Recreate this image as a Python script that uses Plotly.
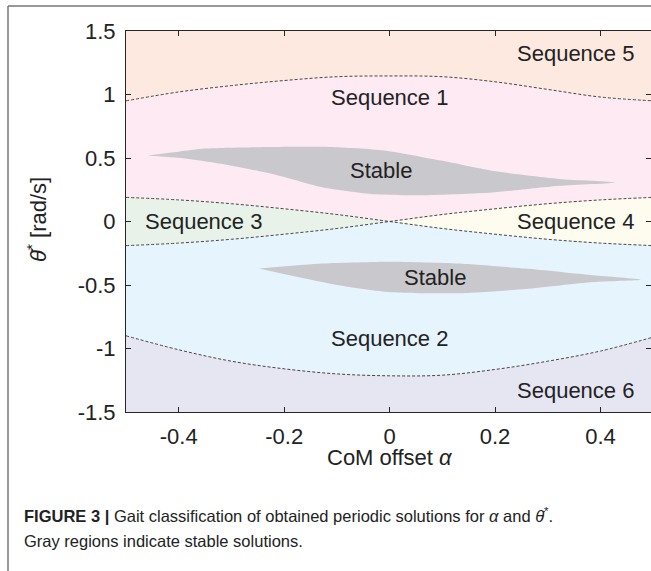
import plotly.graph_objects as go

# ---- data ----
ALPHA = [-0.5, -0.4, -0.3, -0.2, -0.1, 0.0, 0.1, 0.2, 0.3, 0.4, 0.5]
UPPER_BOUND = [0.95, 1.02, 1.07, 1.11, 1.14, 1.146, 1.14, 1.10, 1.04, 0.98, 0.95]   # Seq5 / Seq1
LINE_DOWN = [0.19, 0.17, 0.14, 0.10, 0.055, 0.0, -0.055, -0.10, -0.14, -0.17, -0.19]
LINE_UP = [-0.19, -0.17, -0.14, -0.10, -0.055, 0.0, 0.055, 0.10, 0.14, 0.17, 0.19]
LOWER_BOUND = [-0.90, -1.01, -1.10, -1.16, -1.20, -1.215, -1.21, -1.165, -1.10, -1.02, -0.91]  # Seq2 / Seq6

STABLE1_A = [-0.459, -0.40, -0.35, -0.222, -0.113, -0.011, 0.098, 0.194, 0.322, 0.428,
             0.322, 0.194, 0.066, -0.03, -0.126, -0.222, -0.319, -0.395]
STABLE1_Y = [0.52, 0.55, 0.574, 0.587, 0.587, 0.56, 0.48, 0.40, 0.335, 0.308,
             0.281, 0.228, 0.207, 0.215, 0.268, 0.374, 0.454, 0.50]
STABLE2_A = [-0.248, -0.126, 0.002, 0.13, 0.258, 0.386, 0.476,
             0.386, 0.258, 0.13, 0.002, -0.094, -0.19]
STABLE2_Y = [-0.371, -0.331, -0.317, -0.331, -0.371, -0.424, -0.458,
             -0.476, -0.531, -0.565, -0.557, -0.504, -0.424]

REGION_NAMES = ["Sequence 5", "Sequence 1", "Sequence 3", "Sequence 4", "Sequence 2", "Sequence 6", "Stable", "Stable"]
LABEL_A = [0.352, 0.0, -0.353, 0.352, 0.0, 0.352, -0.017, 0.087]
LABEL_Y = [1.326, 0.98, 0.0, 0.0, -0.925, -1.327, 0.40, -0.437]

X_TICKS = [-0.4, -0.2, 0, 0.2, 0.4]
Y_TICKS = [-1.5, -1, -0.5, 0, 0.5, 1, 1.5]

COLORS = {
    "Sequence 5": "#fde9df",
    "Sequence 1": "#fdeaf2",
    "Sequence 3": "#e8f2e9",
    "Sequence 4": "#fefcee",
    "Sequence 2": "#e6f4fd",
    "Sequence 6": "#e6e6f2",
    "Stable": "#c9c8cc",
}

fig = go.Figure()

def poly(xs, ys, color, shape="linear"):
    fig.add_trace(go.Scatter(x=xs, y=ys, fill="toself", fillcolor=color, mode="lines",
                             line=dict(width=0, color=color, shape=shape, smoothing=0.6),
                             hoverinfo="skip", showlegend=False))

top_env = [max(a, b) for a, b in zip(LINE_DOWN, LINE_UP)]
bot_env = [min(a, b) for a, b in zip(LINE_DOWN, LINE_UP)]
rev = lambda l: list(reversed(l))

# Sequence 5
poly(ALPHA + [0.5, -0.5], UPPER_BOUND + [1.5, 1.5], COLORS["Sequence 5"])
# Sequence 1
poly(ALPHA + rev(ALPHA), UPPER_BOUND + rev(top_env), COLORS["Sequence 1"])
# Sequence 3 (left wedge)
left = [i for i, a in enumerate(ALPHA) if a <= 0]
poly([ALPHA[i] for i in left] + [ALPHA[i] for i in rev(left)],
     [LINE_DOWN[i] for i in left] + [LINE_UP[i] for i in rev(left)], COLORS["Sequence 3"])
# Sequence 4 (right wedge)
right = [i for i, a in enumerate(ALPHA) if a >= 0]
poly([ALPHA[i] for i in right] + [ALPHA[i] for i in rev(right)],
     [LINE_UP[i] for i in right] + [LINE_DOWN[i] for i in rev(right)], COLORS["Sequence 4"])
# Sequence 2
poly(ALPHA + rev(ALPHA), bot_env + rev(LOWER_BOUND), COLORS["Sequence 2"])
# Sequence 6
poly(ALPHA + [0.5, -0.5], LOWER_BOUND + [-1.5, -1.5], COLORS["Sequence 6"])
# Stable regions
poly(STABLE1_A, STABLE1_Y, COLORS["Stable"], "spline")
poly(STABLE2_A, STABLE2_Y, COLORS["Stable"], "spline")

# dashed boundaries
for ys in (UPPER_BOUND, LINE_DOWN, LINE_UP, LOWER_BOUND):
    fig.add_trace(go.Scatter(x=ALPHA, y=ys, mode="lines", line_shape="spline",
                             line=dict(color="#444444", width=1, dash="3px,2px"),
                             hoverinfo="skip", showlegend=False))

FONT = "Liberation Sans, Arial, Helvetica"
# region labels
for name, a, y in zip(REGION_NAMES, LABEL_A, LABEL_Y):
    fig.add_annotation(x=a, y=y, text=name, showarrow=False,
                       font=dict(family=FONT, size=22, color="#222"))

# pixel helpers
L, R, T, B = 126, 651, 31, 412
def px(xp):
    return (xp - L) / (R - L)
def py(yp):
    return (B - yp) / (B - T)

fig.add_annotation(xref="paper", yref="paper", x=px(390), y=py(457), xanchor="center", yanchor="middle",
                   text="CoM offset <i>α</i>",
                   showarrow=False, font=dict(family=FONT, size=22, color="#222"))
fig.add_annotation(xref="paper", yref="paper", x=px(37), y=py(220), xanchor="center", yanchor="middle",
                   text="<i>θ̇</i><sup>*</sup> [rad/s]",
                   textangle=-90, showarrow=False,
                   font=dict(family=FONT, size=22, color="#222"))

cap_font = dict(family="Liberation Sans Narrow, Arial Narrow, Liberation Sans", size=16.5, color="#222")
fig.add_annotation(xref="paper", yref="paper", x=px(22), y=py(515), xanchor="left", yanchor="middle",
                   text="<b>FIGURE 3</b> <b>|</b> Gait classification of obtained periodic solutions for <i>α</i> and <i>θ̇</i><sup>*</sup>.",
                   showarrow=False, font=cap_font, align="left")
fig.add_annotation(xref="paper", yref="paper", x=px(22), y=py(541), xanchor="left", yanchor="middle",
                   text="Gray regions indicate stable solutions.",
                   showarrow=False, font=cap_font, align="left")

# outer frame (top and left visible)
fig.add_shape(type="line", xref="paper", yref="paper", x0=px(8), y0=py(6), x1=px(660), y1=py(6),
              line=dict(color="#777", width=1.5))
fig.add_shape(type="line", xref="paper", yref="paper", x0=px(8), y0=py(6), x1=px(8), y1=py(580),
              line=dict(color="#777", width=1.5))

axis_font = dict(family=FONT, size=22, color="#222")
fig.update_xaxes(range=[-0.5, 0.4958], tickvals=X_TICKS, ticktext=["-0.4", "-0.2", "0", "0.2", "0.4"],
                 ticks="inside", ticklen=5, tickcolor="#262626", showline=True, linecolor="#262626",
                 linewidth=1, mirror="ticks", showgrid=False, zeroline=False, tickfont=axis_font,
                 ticklabelstandoff=5)
fig.update_yaxes(range=[-1.5, 1.5], tickvals=Y_TICKS, ticktext=["-1.5", "-1", "-0.5", "0", "0.5", "1", "1.5"],
                 ticks="inside", ticklen=5, tickcolor="#262626", showline=True, linecolor="#262626",
                 linewidth=1, mirror="ticks", showgrid=False, zeroline=False, tickfont=axis_font,
                 ticklabelstandoff=5)

fig.update_layout(width=651, height=571, margin=dict(l=L, r=0, t=T, b=571 - B),
                  paper_bgcolor="white", plot_bgcolor="white", showlegend=False)

fig.write_html("out.html")
